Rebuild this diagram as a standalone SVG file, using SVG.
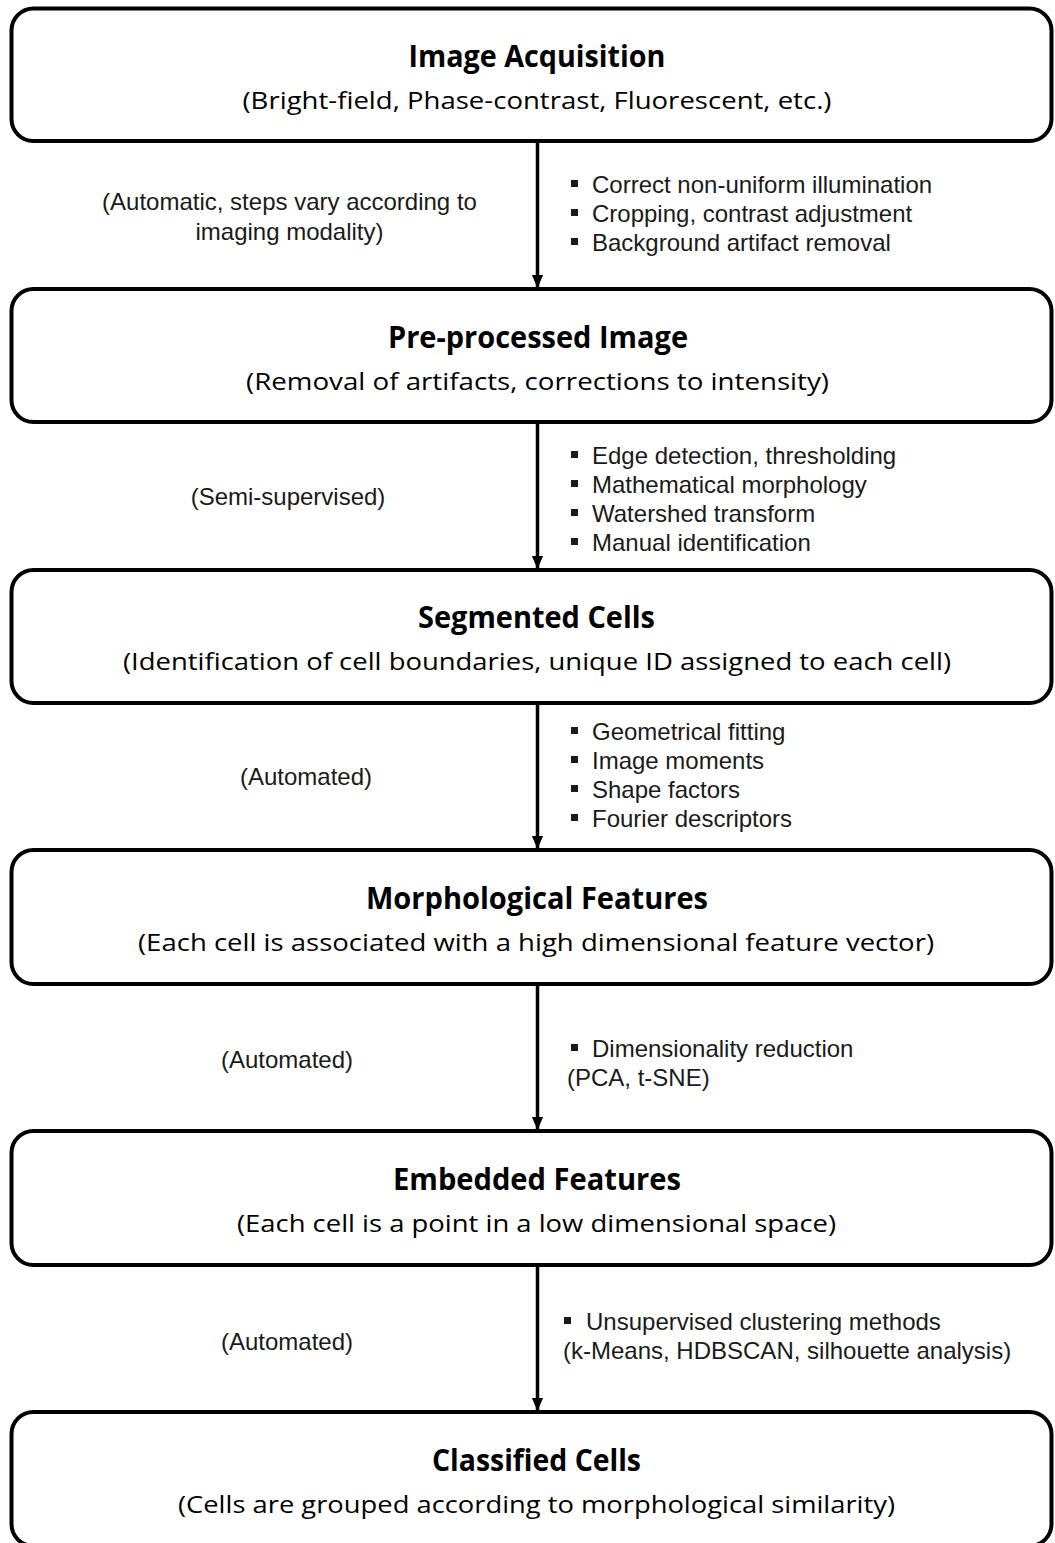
<svg xmlns="http://www.w3.org/2000/svg" width="1055" height="1543" viewBox="0 0 1055 1543">
<style>
.box{fill:#fff;stroke:#000;stroke-width:4}
.title{font-family:"Open Sans","Liberation Sans",sans-serif;font-weight:bold;font-size:30px;fill:#000;text-anchor:middle}
.sub{font-family:"Open Sans","Liberation Sans",sans-serif;font-size:24px;fill:#000;text-anchor:middle}
.lbl{font-family:"Liberation Sans",Arial,sans-serif;font-size:24px;fill:#1a1a1a}
.mid{text-anchor:middle}
.conn{stroke:#000;stroke-width:3.5;fill:none}
.bul{fill:#1a1a1a}
</style>
<defs>
<marker id="ah" markerWidth="13" markerHeight="15" refX="15" refY="6.5" orient="auto" markerUnits="userSpaceOnUse" viewBox="0 0 15 13">
<path d="M0,0 L15,6.5 L0,13 Z" fill="#000"/>
</marker>
</defs>
<rect width="1055" height="1543" fill="#fff"/>
<g id="connectors">
<line class="conn" x1="537.5" y1="141" x2="537.5" y2="288" marker-end="url(#ah)"/>
<line class="conn" x1="537.5" y1="422" x2="537.5" y2="569" marker-end="url(#ah)"/>
<line class="conn" x1="537.5" y1="703" x2="537.5" y2="849" marker-end="url(#ah)"/>
<line class="conn" x1="537.5" y1="984" x2="537.5" y2="1130" marker-end="url(#ah)"/>
<line class="conn" x1="537.5" y1="1265" x2="537.5" y2="1411" marker-end="url(#ah)"/>
</g>
<g id="node1">
<rect class="box" x="11.5" y="8.5" width="1040" height="132.5" rx="22"/>
<text class="title" x="537" y="67" textLength="257" lengthAdjust="spacingAndGlyphs">Image Acquisition</text>
<text class="sub" x="537" y="109" textLength="589" lengthAdjust="spacingAndGlyphs">(Bright-field, Phase-contrast, Fluorescent, etc.)</text>
</g>
<g id="node2">
<rect class="box" x="11.5" y="289" width="1040" height="133" rx="22"/>
<text class="title" x="538" y="348" textLength="300" lengthAdjust="spacingAndGlyphs">Pre-processed Image</text>
<text class="sub" x="537.5" y="390" textLength="583" lengthAdjust="spacingAndGlyphs">(Removal of artifacts, corrections to intensity)</text>
</g>
<g id="node3">
<rect class="box" x="11.5" y="570" width="1040" height="133" rx="22"/>
<text class="title" x="536.5" y="628" textLength="237" lengthAdjust="spacingAndGlyphs">Segmented Cells</text>
<text class="sub" x="537" y="670" textLength="828" lengthAdjust="spacingAndGlyphs">(Identification of cell boundaries, unique ID assigned to each cell)</text>
</g>
<g id="node4">
<rect class="box" x="11.5" y="850" width="1040" height="134" rx="22"/>
<text class="title" x="537" y="909" textLength="342" lengthAdjust="spacingAndGlyphs">Morphological Features</text>
<text class="sub" x="536" y="951" textLength="796" lengthAdjust="spacingAndGlyphs">(Each cell is associated with a high dimensional feature vector)</text>
</g>
<g id="node5">
<rect class="box" x="11.5" y="1131" width="1040" height="134" rx="22"/>
<text class="title" x="537" y="1190" textLength="288" lengthAdjust="spacingAndGlyphs">Embedded Features</text>
<text class="sub" x="536.5" y="1232" textLength="599" lengthAdjust="spacingAndGlyphs">(Each cell is a point in a low dimensional space)</text>
</g>
<g id="node6">
<rect class="box" x="11.5" y="1412" width="1040" height="134" rx="22"/>
<text class="title" x="536.5" y="1471" textLength="209" lengthAdjust="spacingAndGlyphs">Classified Cells</text>
<text class="sub" x="536.5" y="1513" textLength="717" lengthAdjust="spacingAndGlyphs">(Cells are grouped according to morphological similarity)</text>
</g>
<g id="labels">
<text class="lbl mid" x="289.5" y="210">(Automatic, steps vary according to</text>
<text class="lbl mid" x="289.5" y="240">imaging modality)</text>
<rect class="bul" x="571" y="180" width="7" height="7"/>
<text class="lbl" x="592" y="193">Correct non-uniform illumination</text>
<rect class="bul" x="571" y="209" width="7" height="7"/>
<text class="lbl" x="592" y="222">Cropping, contrast adjustment</text>
<rect class="bul" x="571" y="238" width="7" height="7"/>
<text class="lbl" x="592" y="251">Background artifact removal</text>

<text class="lbl mid" x="288" y="505">(Semi-supervised)</text>
<rect class="bul" x="571" y="451" width="7" height="7"/>
<text class="lbl" x="592" y="464">Edge detection, thresholding</text>
<rect class="bul" x="571" y="480" width="7" height="7"/>
<text class="lbl" x="592" y="493">Mathematical morphology</text>
<rect class="bul" x="571" y="509" width="7" height="7"/>
<text class="lbl" x="592" y="522">Watershed transform</text>
<rect class="bul" x="571" y="538" width="7" height="7"/>
<text class="lbl" x="592" y="551">Manual identification</text>

<text class="lbl mid" x="306" y="785">(Automated)</text>
<rect class="bul" x="571" y="727" width="7" height="7"/>
<text class="lbl" x="592" y="740">Geometrical fitting</text>
<rect class="bul" x="571" y="756" width="7" height="7"/>
<text class="lbl" x="592" y="769">Image moments</text>
<rect class="bul" x="571" y="785" width="7" height="7"/>
<text class="lbl" x="592" y="798">Shape factors</text>
<rect class="bul" x="571" y="814" width="7" height="7"/>
<text class="lbl" x="592" y="827">Fourier descriptors</text>

<text class="lbl mid" x="287" y="1068">(Automated)</text>
<rect class="bul" x="571" y="1044" width="7" height="7"/>
<text class="lbl" x="592" y="1057">Dimensionality reduction</text>
<text class="lbl" x="567" y="1086">(PCA, t-SNE)</text>

<text class="lbl mid" x="287" y="1350">(Automated)</text>
<rect class="bul" x="564" y="1317" width="7" height="7"/>
<text class="lbl" x="586" y="1330">Unsupervised clustering methods</text>
<text class="lbl" x="563" y="1359">(k-Means, HDBSCAN, silhouette analysis)</text>
</g>
</svg>
